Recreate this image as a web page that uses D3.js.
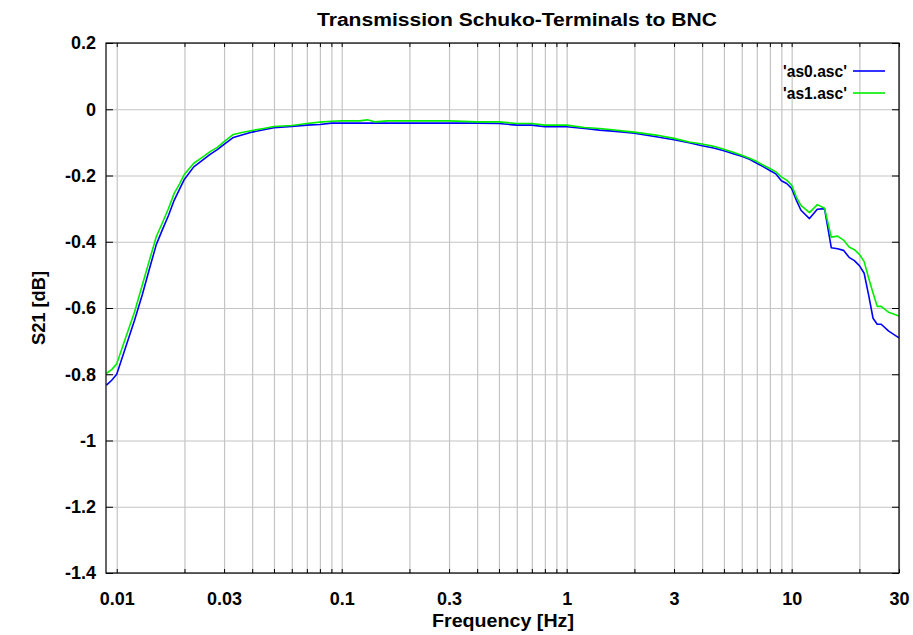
<!DOCTYPE html>
<html>
<head>
<meta charset="utf-8">
<script src="https://cdn.jsdelivr.net/npm/d3@7"></script>
<style>
  html, body { margin: 0; padding: 0; background: #fff; }
  svg { display: block; font-family: "Liberation Sans", Arial, Helvetica, sans-serif; font-weight: bold; }
</style>
</head>
<body>
<svg id="chart" width="913" height="635"></svg>
<script>
// ---- data ----
const chartTitle = "Transmission Schuko-Terminals to BNC";
const xTitle = "Frequency [Hz]";
const yTitle = "S21 [dB]";
const seriesNames = ["'as0.asc'", "'as1.asc'"];

const freq = [0.009, 0.0095, 0.01, 0.011, 0.012, 0.013, 0.014, 0.015, 0.016, 0.017, 0.018, 0.019, 0.02,
  0.022, 0.024, 0.026, 0.028, 0.03, 0.033, 0.036, 0.04, 0.045, 0.05, 0.06, 0.07, 0.08, 0.09, 0.1,
  0.12, 0.13, 0.14, 0.16, 0.2, 0.25, 0.3, 0.4, 0.5, 0.6, 0.7, 0.8, 1.0, 1.2, 1.4, 1.6, 1.8, 2.0,
  2.5, 3, 3.5, 4, 4.5, 5, 5.5, 6, 6.5, 7, 7.5, 8, 8.5, 9, 9.5, 10, 10.5, 11, 12, 13, 14, 15,
  16, 17, 18, 19, 20, 21, 22, 23, 24, 25, 27, 30];

const as0 = [-0.833, -0.818, -0.800, -0.715, -0.637, -0.559, -0.480, -0.408, -0.362, -0.320, -0.275, -0.242, -0.211,
  -0.174, -0.154, -0.136, -0.122, -0.106, -0.085, -0.078, -0.069, -0.062, -0.056, -0.052, -0.048, -0.046, -0.042, -0.042,
  -0.042, -0.042, -0.042, -0.042, -0.042, -0.042, -0.042, -0.042, -0.043, -0.048, -0.048, -0.053, -0.053, -0.058, -0.063, -0.066, -0.069, -0.072,
  -0.083, -0.092, -0.101, -0.110, -0.117, -0.125, -0.134, -0.142, -0.151, -0.163, -0.174, -0.185, -0.195, -0.216, -0.224, -0.239, -0.275, -0.305, -0.330, -0.302, -0.300, -0.418,
  -0.421, -0.426, -0.447, -0.457, -0.472, -0.495, -0.562, -0.631, -0.649, -0.649, -0.670, -0.690];

const as1 = [-0.797, -0.786, -0.768, -0.686, -0.612, -0.530, -0.454, -0.384, -0.341, -0.299, -0.254, -0.226, -0.196,
  -0.163, -0.145, -0.128, -0.115, -0.098, -0.076, -0.070, -0.064, -0.058, -0.052, -0.049, -0.043, -0.039, -0.036, -0.035,
  -0.035, -0.032, -0.038, -0.035, -0.035, -0.035, -0.035, -0.038, -0.038, -0.043, -0.043, -0.048, -0.048, -0.055, -0.058, -0.062, -0.066, -0.069,
  -0.078, -0.088, -0.099, -0.105, -0.112, -0.121, -0.130, -0.139, -0.148, -0.158, -0.169, -0.179, -0.189, -0.204, -0.214, -0.229, -0.266, -0.290, -0.312, -0.288, -0.299, -0.386,
  -0.383, -0.395, -0.416, -0.424, -0.438, -0.460, -0.510, -0.555, -0.595, -0.595, -0.613, -0.624];

const xLabelTicks = [0.01, 0.03, 0.1, 0.3, 1, 3, 10, 30];
const xLabelText = ["0.01", "0.03", "0.1", "0.3", "1", "3", "10", "30"];
const yTicks = [0.2, 0, -0.2, -0.4, -0.6, -0.8, -1, -1.2, -1.4];
const yTickText = ["0.2", "0", "-0.2", "-0.4", "-0.6", "-0.8", "-1", "-1.2", "-1.4"];
const seriesColors = ["#0000ff", "#00ee00"];

// ---- layout ----
const W = 913, H = 635;
const m = { left: 106, right: 14, top: 43, bottom: 62 };
const svg = d3.select("#chart");
const pw = W - m.left - m.right, ph = H - m.top - m.bottom;

const x = d3.scaleLog().domain([0.00896, 30]).range([0, pw]);
const y = d3.scaleLinear().domain([-1.4, 0.2]).range([ph, 0]);

const g = svg.append("g").attr("transform", `translate(${m.left},${m.top})`);

// grid lines (all decade sub-multiples)
const gridX = [];
[0.01, 0.1, 1, 10].forEach(d => { for (let k = 1; k <= 9; k++) { const v = +(d * k).toPrecision(3); if (v <= 30) gridX.push(v); } });

g.append("g").attr("class", "grid-x")
  .call(d3.axisBottom(x).tickValues(gridX).tickSize(-ph).tickFormat(""))
  .attr("transform", `translate(0,${ph})`)
  .call(s => s.select(".domain").remove())
  .call(s => s.selectAll("line").attr("stroke", "#c4c4c4").attr("stroke-width", 1.2));

g.append("g").attr("class", "grid-y")
  .call(d3.axisLeft(y).tickValues(yTicks).tickSize(-pw).tickFormat(""))
  .call(s => s.select(".domain").remove())
  .call(s => s.selectAll("line").attr("stroke", "#c4c4c4").attr("stroke-width", 1.2));

// inward tick marks (mirrored)
function ticks(axisGen, tr) {
  g.append("g").attr("transform", tr).call(axisGen)
    .call(s => s.select(".domain").remove())
    .call(s => s.selectAll("line").attr("stroke", "#000").attr("stroke-width", 1));
}
ticks(d3.axisBottom(x).tickValues(gridX).tickSize(-4).tickFormat(""), `translate(0,${ph})`);
ticks(d3.axisTop(x).tickValues(gridX).tickSize(-4).tickFormat(""), `translate(0,0)`);
ticks(d3.axisLeft(y).tickValues(yTicks).tickSize(-7).tickFormat(""), `translate(0,0)`);
ticks(d3.axisRight(y).tickValues(yTicks).tickSize(-7).tickFormat(""), `translate(${pw},0)`);

// tick labels
const xl = g.append("g").call(d3.axisBottom(x).tickValues(xLabelTicks).tickSize(0).tickPadding(0)
    .tickFormat((d, i) => xLabelText[i]))
  .attr("transform", `translate(0,${ph})`);
xl.select(".domain").remove();
xl.selectAll("text").attr("font-size", 18).attr("font-weight", "bold").attr("fill", "#000")
  .attr("font-family", '"Liberation Sans", Arial, sans-serif')
  .attr("dy", null).attr("y", 32);

const yl = g.append("g").call(d3.axisLeft(y).tickValues(yTicks).tickSize(0).tickPadding(10)
    .tickFormat((d, i) => yTickText[i]));
yl.select(".domain").remove();
yl.selectAll("text").attr("font-size", 18).attr("font-weight", "bold").attr("fill", "#000")
  .attr("font-family", '"Liberation Sans", Arial, sans-serif');

// series
const line = d3.line().x(d => x(d[0])).y(d => y(d[1]));
[as0, as1].forEach((vals, i) => {
  g.append("path").datum(freq.map((f, j) => [f, vals[j]]))
    .attr("fill", "none").attr("stroke", seriesColors[i]).attr("stroke-width", 1.6)
    .attr("stroke-linejoin", "round").attr("d", line);
});

// border
g.append("rect").attr("width", pw).attr("height", ph).attr("fill", "none")
  .attr("stroke", "#000").attr("stroke-width", 1.2);

// legend
const legY = [71, 93];
seriesNames.forEach((n, i) => {
  svg.append("text").attr("x", 847).attr("y", legY[i]).attr("dy", "0.35em")
    .attr("text-anchor", "end").attr("font-size", 17)
    .attr("textLength", 64).attr("lengthAdjust", "spacingAndGlyphs").text(n);
  svg.append("line").attr("x1", 853).attr("x2", 885).attr("y1", legY[i]).attr("y2", legY[i])
    .attr("stroke", seriesColors[i]).attr("stroke-width", 1.6);
});

// titles
svg.append("text").attr("x", 517).attr("y", 26).attr("text-anchor", "middle")
  .attr("font-size", 18).attr("textLength", 400).attr("lengthAdjust", "spacingAndGlyphs").text(chartTitle);
svg.append("text").attr("x", 503).attr("y", 627).attr("text-anchor", "middle")
  .attr("font-size", 18).attr("textLength", 142).attr("lengthAdjust", "spacingAndGlyphs").text(xTitle);
svg.append("text").attr("transform", "translate(45,308) rotate(-90)").attr("text-anchor", "middle")
  .attr("font-size", 18).attr("textLength", 74).attr("lengthAdjust", "spacingAndGlyphs").text(yTitle);
</script>
</body>
</html>
